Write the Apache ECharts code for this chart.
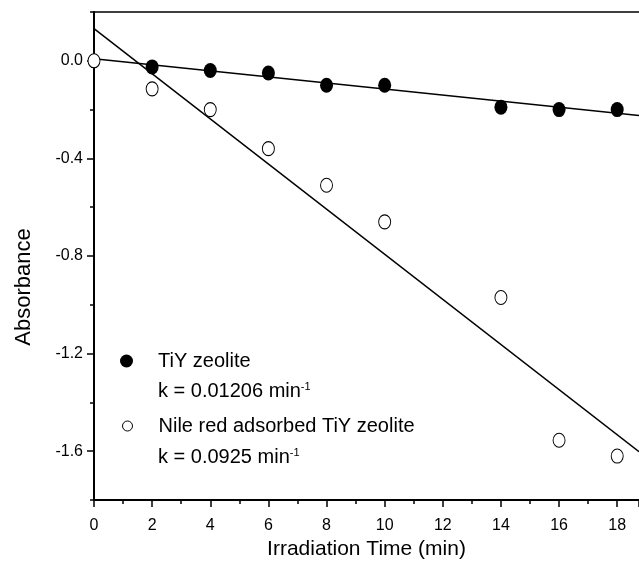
<!DOCTYPE html>
<html>
<head>
<meta charset="utf-8">
<script src="https://cdn.jsdelivr.net/npm/echarts@6/dist/echarts.min.js"></script>
<style>
  html, body { margin: 0; padding: 0; background: #fff; }
  #main { width: 639px; height: 570px; }
</style>
</head>
<body>
<div id="main"></div>
<script>
// irradiation time (min)
var times = [0, 2, 4, 6, 8, 10, 14, 16, 18];
// TiY zeolite (filled), no point at t = 0
var tiyTimes = [2, 4, 6, 8, 10, 14, 16, 18];
var tiyAbs = [-0.025, -0.04, -0.05, -0.10, -0.10, -0.19, -0.20, -0.20];
// Nile red adsorbed TiY zeolite (open)
var nileAbs = [0.0, -0.115, -0.20, -0.36, -0.51, -0.66, -0.97, -1.555, -1.62];
// fitted lines, read at the plot edges
var fitTimes = [0, 18.75];
var tiyFit = [0.008, -0.224];
var nileFit = [0.132, -1.602];
var yLabels = [-1.6, -1.2, -0.8, -0.4, 0.0];

var font = 'Liberation Sans, Arial, sans-serif';

var chartDom = document.getElementById('main');
var myChart = echarts.init(chartDom);

function pairs(xs, ys) {
    return xs.map(function (x, i) { return [x, ys[i]]; });
}

function legendBox(item, left, top, size, pad) {
    return {
        orient: 'vertical',
        left: left,
        top: top,
        padding: 0,
        itemWidth: size[0],
        itemHeight: size[1],
        data: [item],
        textStyle: { fontFamily: font, fontSize: 20, color: '#000', padding: [0, 0, 0, pad] }
    };
}

function kText(label, top) {
    return {
        type: 'text', left: 158, top: top,
        style: {
            text: '{a|' + label + '}{s|-1}',
            rich: {
                a: { fontFamily: font, fontSize: 20, fill: '#000' },
                s: { fontFamily: font, fontSize: 11, fill: '#000', verticalAlign: 'top', padding: [0, 0, 10, 0] }
            }
        }
    };
}

var option = {
    animation: false,
    backgroundColor: '#fff',
    grid: { left: 94, right: 0, top: 12, bottom: 70 },
    legend: [
        legendBox('TiY zeolite', 120, 351, [13, 13], 20),
        legendBox({ name: 'Nile red adsorbed TiY zeolite', itemStyle: { borderWidth: 1 } }, 122, 416, [10, 11], 21)
    ],
    graphic: [
        kText('k = 0.01206 min', 381),
        kText('k = 0.0925 min', 447),
        {
            type: 'text', x: 24, y: 287, rotation: Math.PI / 2,
            style: {
                text: 'Absorbance', fontFamily: font, fontSize: 22, fill: '#000',
                align: 'center', verticalAlign: 'middle'
            }
        }
    ],
    xAxis: [
        {
            type: 'value',
            min: 0, max: 18.75, interval: 2,
            name: 'Irradiation Time (min)',
            nameLocation: 'middle',
            nameGap: 37,
            nameTextStyle: { fontFamily: font, fontSize: 21, color: '#000' },
            axisLine: { show: true, onZero: false, lineStyle: { color: '#000', width: 2 } },
            axisTick: { show: true, inside: false, length: 7, lineStyle: { color: '#000', width: 1.5 } },
            minorTick: { show: true, splitNumber: 2, length: 4, lineStyle: { color: '#000', width: 1.5 } },
            axisLabel: { fontFamily: font, fontSize: 16, color: '#000', margin: 18, showMaxLabel: false },
            splitLine: { show: false }
        },
        {
            type: 'value', position: 'top',
            min: 0, max: 18.75,
            axisLine: { show: true, onZero: false, lineStyle: { color: '#000', width: 1.5 } },
            axisTick: { show: false }, axisLabel: { show: false }, splitLine: { show: false }
        }
    ],
    yAxis: [
        {
            type: 'value',
            min: -1.8, max: 0.2, interval: 0.2,
            axisLine: { show: true, onZero: false, lineStyle: { color: '#000', width: 2 } },
            axisTick: { show: true, length: 7, customValues: yLabels, lineStyle: { color: '#000', width: 1.5 } },
            axisLabel: {
                fontFamily: font, fontSize: 16, color: '#000', margin: 11,
                customValues: yLabels,
                formatter: function (v) { return v.toFixed(1); }
            },
            splitLine: { show: false }
        },
        {
            type: 'value', position: 'left',
            min: -1.8, max: 0.2, interval: 0.2,
            axisLine: { show: false },
            axisTick: { show: true, length: 4, lineStyle: { color: '#000', width: 1.5 } },
            axisLabel: { show: false }, splitLine: { show: false }
        }
    ],
    series: [
        {
            name: 'TiY fit', type: 'line', data: pairs(fitTimes, tiyFit),
            showSymbol: false, silent: true,
            lineStyle: { color: '#000', width: 1.5 }, z: 1
        },
        {
            name: 'Nile fit', type: 'line', data: pairs(fitTimes, nileFit),
            showSymbol: false, silent: true,
            lineStyle: { color: '#000', width: 1.5 }, z: 1
        },
        {
            name: 'TiY zeolite', type: 'scatter', data: pairs(tiyTimes, tiyAbs),
            symbol: 'circle', symbolSize: [13, 15],
            itemStyle: { color: '#000', opacity: 1 }, z: 3
        },
        {
            name: 'Nile red adsorbed TiY zeolite', type: 'scatter', data: pairs(times, nileAbs),
            symbol: 'circle', symbolSize: [12, 14],
            itemStyle: { color: '#fff', borderColor: '#000', borderWidth: 1, opacity: 1 }, z: 3
        }
    ]
};
myChart.setOption(option);
</script>
</body>
</html>
